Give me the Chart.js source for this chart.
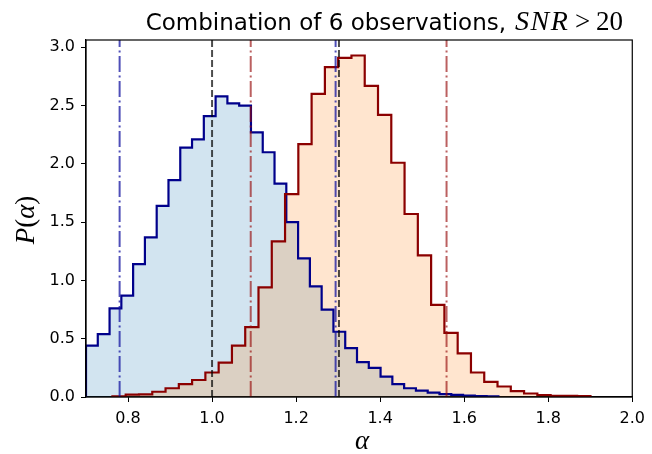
<!DOCTYPE html>
<html>
<head>
<meta charset="utf-8">
<script src="https://cdn.jsdelivr.net/npm/chart.js@4.4.1/dist/chart.umd.min.js"></script>
<style>
  body { margin: 0; background: #fff; }
  #wrap { width: 652px; height: 454px; }
</style>
</head>
<body>
<div id="wrap"><canvas id="myChart" width="652" height="454"></canvas></div>
<script>
// histogram bins (left edge of first bin + bin width)
const blueStart = 0.7;
const blueWidth = 0.02804;
const blueValues = [0.44, 0.54, 0.76, 0.87, 1.14, 1.37, 1.64, 1.86, 2.14, 2.21,
  2.41, 2.58, 2.52, 2.50, 2.27, 2.10, 1.83, 1.50, 1.19, 0.95,
  0.75, 0.56, 0.42, 0.30, 0.25, 0.175, 0.11, 0.075, 0.055, 0.037,
  0.025, 0.018, 0.012, 0.008, 0.005];

const redStart = 0.7629;
const redWidth = 0.0316;
const redValues = [0.005, 0.02, 0.022, 0.045, 0.075, 0.11, 0.146, 0.21, 0.295, 0.44,
  0.60, 0.94, 1.335, 1.74, 2.17, 2.60, 2.83, 2.91, 2.93, 2.67,
  2.42, 2.01, 1.57, 1.215, 0.79, 0.55, 0.375, 0.21, 0.13, 0.09,
  0.05, 0.03, 0.017, 0.01, 0.01, 0.008];

// vertical markers
const blueLines = [0.78, 1.294];
const blackLines = [1.0, 1.302];
const redLines = [1.092, 1.558];

const xTicks = [0.8, 1.0, 1.2, 1.4, 1.6, 1.8, 2.0];
const yTicks = [0.0, 0.5, 1.0, 1.5, 2.0, 2.5, 3.0];
const xMin = 0.7, xMax = 2.0, yMin = 0, yMax = 3.063;

function stepPoints(start, width, values) {
  const pts = [{ x: start, y: 0 }];
  values.forEach((v, i) => pts.push({ x: start + i * width, y: v }));
  pts.push({ x: start + values.length * width, y: 0 });
  return pts;
}

function vline(x, color, dash) {
  return {
    data: [{ x: x, y: yMin }, { x: x, y: yMax }],
    borderColor: color,
    borderWidth: 2,
    borderDash: dash,
    pointRadius: 0,
    fill: false,
  };
}

function hist(start, width, values, line, fillColor) {
  // fill only, or outline only
  return {
    data: stepPoints(start, width, values),
    borderColor: line || 'transparent',
    backgroundColor: fillColor || 'transparent',
    borderWidth: line ? 2.2 : 0,
    stepped: true,
    pointRadius: 0,
    fill: fillColor ? 'origin' : false,
  };
}

const dashDot = [16, 3.5, 2, 3.5];
const dashed = [7, 3];

// first dataset is drawn on top
const datasets = [];
blueLines.forEach(x => datasets.push(vline(x, 'rgba(20,20,160,0.75)', dashDot)));
blackLines.forEach(x => datasets.push(vline(x, 'rgba(0,0,0,0.7)', dashed)));
redLines.forEach(x => datasets.push(vline(x, 'rgba(150,10,10,0.65)', dashDot)));
datasets.push(hist(redStart, redWidth, redValues, '#8b0000', null));
datasets.push(hist(blueStart, blueWidth, blueValues, '#00008b', null));
datasets.push(hist(redStart, redWidth, redValues, null, 'rgba(255,127,14,0.2)'));
datasets.push(hist(blueStart, blueWidth, blueValues, null, 'rgba(31,119,180,0.2)'));

const frameAndText = {
  id: 'frameAndText',
  afterDatasetsDraw(chart) {
    const { ctx, chartArea: a } = chart;
    ctx.save();
    ctx.strokeStyle = '#000';
    ctx.lineWidth = 1.2;
    ctx.strokeRect(a.left, a.top, a.right - a.left, a.bottom - a.top);
    ctx.restore();
  },
  afterDraw(chart) {
    const { ctx } = chart;
    ctx.save();
    ctx.fillStyle = '#000';
    ctx.textBaseline = 'alphabetic';
    // title
    const base = 30;
    ctx.font = '23px "DejaVu Sans"';
    ctx.textAlign = 'right';
    ctx.fillText('Combination of 6 observations,', 506, base);
    ctx.textAlign = 'left';
    ctx.font = 'italic 28px "Liberation Serif"';
    ctx.letterSpacing = '1.5px';
    ctx.fillText('SNR', 515, base);
    ctx.letterSpacing = '0px';
    ctx.font = '27px "Liberation Serif"';
    ctx.fillText('>', 575, base);
    ctx.fillText('20', 596, base);

    // x label
    ctx.textAlign = 'center';
    ctx.font = 'italic 27px "Liberation Serif"';
    ctx.fillText('\u03b1', 362, 449);

    // y label
    ctx.translate(34, 220);
    ctx.rotate(-Math.PI / 2);
    ctx.textAlign = 'left';
    const parts = [['italic', 'P'], ['', '('], ['italic', '\u03b1'], ['', ')']];
    let w = 0;
    parts.forEach(p => { ctx.font = p[0] + ' 27px "Liberation Serif"'; w += ctx.measureText(p[1]).width; });
    let px = -w / 2;
    parts.forEach(p => {
      ctx.font = p[0] + ' 27px "Liberation Serif"';
      ctx.fillText(p[1], px, 0);
      px += ctx.measureText(p[1]).width;
    });
    ctx.restore();
  }
};

const tickFont = { family: '"DejaVu Sans"', size: 16 };

new Chart(document.getElementById('myChart').getContext('2d'), {
  type: 'line',
  data: { datasets: datasets },
  options: {
    responsive: false,
    animation: false,
    layout: { padding: { left: 0, right: 16, top: 40, bottom: 0 } },
    plugins: { legend: { display: false }, tooltip: { enabled: false }, title: { display: false } },
    scales: {
      x: {
        type: 'linear',
        min: xMin,
        max: xMax,
        afterBuildTicks: s => { s.ticks = xTicks.map(v => ({ value: v })); },
        afterFit: s => { s.height = 57; },
        grid: { drawOnChartArea: false, drawTicks: true, tickLength: 5, color: '#000' },
        border: { display: true, color: '#000', width: 1.2 },
        ticks: { color: '#000', font: tickFont, padding: 7, maxRotation: 0, callback: v => v.toFixed(1) },
      },
      y: {
        type: 'linear',
        min: yMin,
        max: yMax,
        afterBuildTicks: s => { s.ticks = yTicks.map(v => ({ value: v })); },
        afterFit: s => { s.width = 86; },
        grid: { drawOnChartArea: false, drawTicks: true, tickLength: 5, color: '#000' },
        border: { display: true, color: '#000', width: 1.2 },
        ticks: { color: '#000', font: tickFont, padding: 6, callback: v => v.toFixed(1) },
      },
    },
  },
  plugins: [frameAndText],
});
</script>
</body>
</html>
